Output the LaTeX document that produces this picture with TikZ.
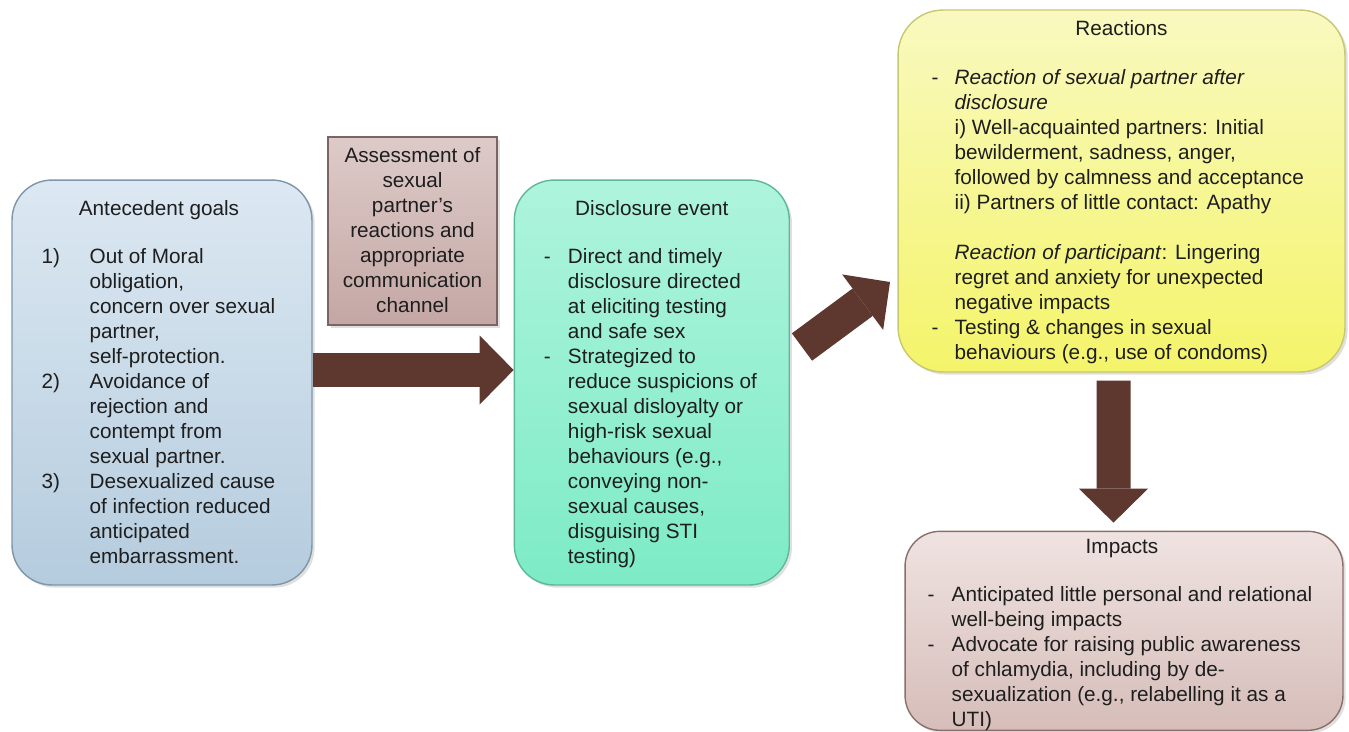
\documentclass[tikz,border=0pt]{standalone}
\usepackage{fontspec}
\setmainfont{Liberation Sans}
\usetikzlibrary{positioning}
\usetikzlibrary{calc}
\usetikzlibrary{arrows.meta}
\usetikzlibrary{shadows}

\definecolor{textgray}{HTML}{1E1E1E}
\definecolor{arrowbrown}{HTML}{5E382E}
\definecolor{antetop}{HTML}{DCE8F2}
\definecolor{antebot}{HTML}{B5CCDE}
\definecolor{anteline}{HTML}{7D96A9}
\definecolor{asstop}{HTML}{DDCBC9}
\definecolor{assbot}{HTML}{C4A7A4}
\definecolor{assline}{HTML}{7B6461}
\definecolor{disctop}{HTML}{AEF4DC}
\definecolor{discbot}{HTML}{7DEBC6}
\definecolor{discline}{HTML}{5DB899}
\definecolor{reacttop}{HTML}{F9F9C0}
\definecolor{reactbot}{HTML}{F4F46A}
\definecolor{reactline}{HTML}{C8C870}
\definecolor{imptop}{HTML}{EFE3E1}
\definecolor{impbot}{HTML}{D6BDB9}
\definecolor{impline}{HTML}{8B6F6B}

\newlength{\leadw}
\newcommand{\lead}[1]{\makebox[\leadw][l]{#1}}

\tikzset{
    box/.style={
    draw, line width=0.8pt, rounded corners=0.8cm,
    drop shadow={shadow xshift=1.5pt,shadow yshift=-1.5pt,opacity=0.25}
    },
    title/.style={anchor=base, inner sep=0pt},
    listtext/.style={
    anchor=north west, inner sep=0pt, align=left,
    execute at begin node={\setlength{\leadw}{#1}}
    },
    blockarrow/.style={
    line width=0.68cm, draw=arrowbrown,
    -{Triangle[line width=0pt,length=0.68cm,width=1.38cm]}
    }
}

\begin{document}
\begin{tikzpicture}[x=0.02cm,y=-0.02cm,font=\fontsize{11.8}{14.2}\selectfont,text=textgray]
\useasboundingbox[fill=white] (0,0) rectangle (1349,731);

% boxes
\node [box,minimum width=6cm,minimum height=8.1cm,top color=antetop,bottom color=antebot,draw=anteline](ante) at (162,382.5) {};
\node [box,minimum width=5.5cm,minimum height=8.1cm,top color=disctop,bottom color=discbot,draw=discline, right=4.02cm of ante](disc) {};
\node [box,rounded corners=0pt,minimum width=3.38cm,minimum height=3.76cm,top color=asstop,bottom color=assbot,draw=assline](assess) at (412.5,231) {};
\node [box,rounded corners=0.9cm,minimum width=8.94cm,minimum height=7.24cm,top color=reacttop,bottom color=reactbot,draw=reactline](react) at (1121.5,191) {};
\node [box,rounded corners=0.7cm,minimum width=8.76cm,minimum height=3.98cm,top color=imptop,bottom color=impbot,draw=impline, below=3.16cm of react, xshift=0.05cm](impacts) {};

% titles
\node [title](antetitle) at ($(ante.north)+(-3,36)$) {Antecedent goals};
\node [title](disctitle) at ($(disc.north)+(0,36)$) {Disclosure event};
\node [title](reacttitle) at ($(react.north)+(0,26)$) {Reactions};
\node [title](imptitle) at ($(impacts.north)+(-2,23)$) {Impacts};

% texts
\node [anchor=north,inner sep=0pt,align=center](asstext) at ($(assess.north)+(0,8.5)$) {\strut Assessment of\\ sexual\\ partner's\\ reactions and\\ appropriate\\ communication\\ channel};

\node [listtext=0.96cm](antetext) at ($(ante.north west)+(30,66.5)$) {\strut\lead{1)}Out of Moral\\
\lead{}obligation,\\
\lead{}concern over sexual\\
\lead{}partner,\\
\lead{}self-protection.\\
\lead{2)}Avoidance of\\
\lead{}rejection and\\
\lead{}contempt from\\
\lead{}sexual partner.\\
\lead{3)}Desexualized cause\\
\lead{}of infection reduced\\
\lead{}anticipated\\
\lead{}embarrassment.};

\node [listtext=0.48cm](disctext) at ($(disc.north west)+(30,66.5)$) {\strut\lead{-}Direct and timely\\
\lead{}disclosure directed\\
\lead{}at eliciting testing\\
\lead{}and safe sex\\
\lead{-}Strategized to\\
\lead{}reduce suspicions of\\
\lead{}sexual disloyalty or\\
\lead{}high-risk sexual\\
\lead{}behaviours (e.g.,\\
\lead{}conveying non-\\
\lead{}sexual causes,\\
\lead{}disguising STI\\
\lead{}testing)};

\node [listtext=0.46cm](reacttext) at ($(react.north west)+(34,57.5)$) {\strut\lead{-}\textit{Reaction of sexual partner after}\\
\lead{}\textit{disclosure}\\
\lead{}i) Well-acquainted partners: Initial\\
\lead{}bewilderment, sadness, anger,\\
\lead{}followed by calmness and acceptance\\
\lead{}ii) Partners of little contact: Apathy\\
\lead{}\\
\lead{}\textit{Reaction of participant}: Lingering\\
\lead{}regret and anxiety for unexpected\\
\lead{}negative impacts\\
\lead{-}Testing \& changes in sexual\\
\lead{}behaviours (e.g., use of condoms)};

\node [listtext=0.48cm](imptext) at ($(impacts.north west)+(23,53.5)$) {\strut\lead{-}Anticipated little personal and relational\\
\lead{}well-being impacts\\
\lead{-}Advocate for raising public awareness\\
\lead{}of chlamydia, including by de-\\
\lead{}sexualization (e.g., relabelling it as a\\
\lead{}UTI)};

% arrows
\coordinate (dtail) at (802,347);
\coordinate (dtip) at (890,282);
\draw[blockarrow] ($(ante.east)+(0,-12.5)$) -- ($(disc.west)+(0,-12.5)$);
\draw[blockarrow] (dtail) -- (dtip);
\draw[blockarrow] ($(react.south)+(-8,8)$) -- ($(impacts.north)+(-10.5,-8)$);

\end{tikzpicture}
\end{document}
